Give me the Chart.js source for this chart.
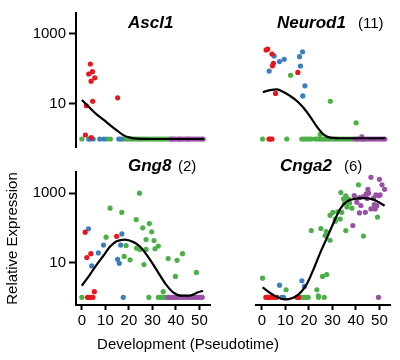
<!DOCTYPE html>
<html>
<head>
<meta charset="utf-8">
<script src="https://cdn.jsdelivr.net/npm/chart.js@4"></script>
<style>
  html, body { margin: 0; padding: 0; background: #fff; }
  #wrap { position: relative; width: 400px; height: 360px; overflow: hidden; }
  #wrap canvas { position: absolute; left: 0; top: 0; }
</style>
</head>
<body>
<div id="wrap">
  <canvas id="c1" width="400" height="360"></canvas>
  <canvas id="c2" width="400" height="360"></canvas>
  <canvas id="c3" width="400" height="360"></canvas>
  <canvas id="c4" width="400" height="360"></canvas>
</div>
<script>
// ---------- shared axis / label data ----------
const xTickValues = [0, 10, 20, 30, 40, 50];
const yTickValues = [10, 1000];
const ZERO_LEVEL = 1;            // cells with no expression sit on this level
const xAxisTitle = "Development (Pseudotime)";
const yAxisTitle = "Relative Expression";

// ---------- Ascl1 ----------
const ascl1Red = [[3.6,139],[2.9,72],[4.5,84],[5.5,56],[3.9,45],[4.6,12],[1.9,8.9],[15.2,15],[1.5,1.3],[4.0,1.1]];
const ascl1BlueZero = [2.9,3.4,4.8,7.6,9.4,15.7,16.7];
const ascl1GreenZero = [0,10.7,12.1,17.8,18.8,19.8,20.8,21.8,22.8,23.8,24.8,25.8,26.8,27.8,28.8,29.8,30.8,31.8,32.8,33.8,34.8,35.8,36.8,38.3,41.5,45];
const ascl1PurpleZero = [37.8,38.8,39.8,40.8,41.8,42.8,43.8,44.8,45.8,46.8,47.8,48.8,49.8,50.8,51.6];
const ascl1CurveX = [0,3.6,6.5,9.3,12.1,15,17.8,20.6,23.5,30,40,52];
const ascl1CurveY = [13,7.5,4.9,3.5,2.45,1.73,1.27,1.09,1.02,1.0,1.0,1.0];

// ---------- Neurod1 ----------
const neurod1Red = [[1.8,350],[2.5,370],[4.3,268],[4.9,145],[4.5,123],[15.3,80],[5.8,20]];
const neurod1RedZero = [3.0,3.6,4.3];
const neurod1Blue = [[5.2,236],[3.1,87],[7.5,163],[9.5,190],[17.3,310],[16.0,225],[16.4,122],[18.3,33],[17.4,17]];
const neurod1Green = [[12.2,66],[29.1,12],[40.1,2.9],[24.8,1.36]];
const neurod1GreenZero = [0.3,10.6,17,18,19,20,21,22.7,23.7,24.7,25.7,26.7,27.7,28.7,29.7,30.7,31.7,32.7,33.7,34.7,35.7,36.7,37.7,38.7,40.5,43];
const neurod1Purple = [[42.5,1.16]];
const neurod1PurpleZero = [39.5,40.5,41.5,42.5,43.5,44.5,45.5,46.5,47.5,48.5,49.5,50.5,51.5,52.3];
const neurod1CurveX = [0.4,3.5,6.4,9.2,12,14.9,17.7,20.6,23.4,26.2,29.1,35,45,52.5];
const neurod1CurveY = [22,25,26.3,22,17,12.2,7.8,4.3,2.25,1.36,1.1,1.05,1.05,1.05];

// ---------- Gng8 ----------
const gng8Red = [[1.4,75],[2.1,14],[3.8,18],[14.8,57],[5.3,1.45]];
const gng8RedZero = [2.4,3.2,4.0,4.7];
const gng8Blue = [[2.8,94],[4.2,8],[7,19],[9.2,32],[17,67],[16.5,32],[15.2,12.4],[15.9,9.5]];
const gng8BlueZero = [17.6];
const gng8Green = [[12,370],[17,280],[24.5,1000],[23.1,173],[25.9,100],[28.7,133],[29.7,77],[27.3,46],[30.7,43],[23.3,26],[24.7,24],[27.3,24],[31.1,25],[32.5,30],[18.8,31],[18,15],[20.5,12],[26.4,8.8],[10.3,54],[36.7,13],[40.5,11.6],[42.8,18],[39.8,4],[48.7,5.2],[34.6,1.45]];
const gng8GreenZero = [0,28.5,32.5,33.5,34.5,35.5,37,40.5];
const gng8PurpleZero = [36.6,37.6,38.6,39.6,41.2,42.2,43.2,44.2,45.2,46.2,47.2,48.2,49.2,50.2,51.2];
const gng8CurveX = [0,3.5,6.4,9.2,12,14.8,18.3,21.9,24.7,27.5,30.3,33.2,36,38.8,42.4,45.9,49.4,51.5];
const gng8CurveY = [2.15,4.6,8.9,16,29,41,46,39,29,17,8.9,4.3,2.24,1.39,1.11,1.11,1.39,1.55];

// ---------- Cnga2 ----------
const cnga2RedZero = [1.7,2.5,3.5,4.5,5.5,6.4,14.9,15.6];
const cnga2Blue = [[7.5,2.24],[17,3.0],[18.1,2.05]];
const cnga2BlueZero = [2.2,3.1,8.5,9.2];
const cnga2Green = [[0.3,3.55],[10.3,1.65],[23.4,1.65],[24,1.1],[25.8,4.0],[27.6,4.5],[21,84],[25.1,96],[27.4,78],[26.9,60],[29,44],[29,230],[30.2,280],[32.3,287],[31.2,180],[31.2,155],[33.3,180],[34,280],[33.6,1040],[35.7,840],[34.7,690],[36.9,675],[35.2,520],[37.3,520],[36.2,400],[35.7,84],[41.1,1740],[38.3,370],[43.2,58],[49.2,205]];
const cnga2GreenZero = [16.3,17,18,19,19.7,24.1,26.5];
const cnga2Purple = [[39.3,850],[41.5,750],[43.2,800],[40.4,550],[42.1,440],[41.5,270],[44,280],[38.7,117],[45.1,1290],[45.4,1000],[46.4,2860],[50,2500],[51.1,1740],[52.2,1290],[48.5,890],[50.3,890],[47.5,720],[46.4,350],[48.2,350],[47.8,465],[44.4,960],[49.6,840],[48.9,435],[44.8,700]];
const cnga2PurpleZero = [49.6];
const cnga2CurveX = [0.3,4.9,9.9,14.9,19.1,22,24.8,27.7,30.5,33.3,36.2,39,43.2,47.5,52.2];
const cnga2CurveY = [1.93,1.16,0.87,1.11,2.4,6.5,19,52,140,350,575,675,720,650,435];

// ---------- styling ----------
const FONT = "'Liberation Sans', Arial, Helvetica, sans-serif";
const COLORS = { red: '#e8171d', blue: '#3a7ebf', green: '#4caf48', purple: '#994fa4' };
const PT = 2.6;

function pairs(arr) { return arr.map(p => ({ x: p[0], y: p[1] })); }
function zeros(arr) { return arr.map(x => ({ x: x, y: ZERO_LEVEL })); }
function curve(xs, ys) { return xs.map((x, i) => ({ x: x, y: ys[i] })); }

function pointSet(color, pts) {
  return { data: pts, backgroundColor: color, borderWidth: 0, pointRadius: PT, pointHoverRadius: PT };
}

function titlePlugin(gene, note, x, y, noteX) {
  return {
    id: 'panelTitle',
    afterDraw(chart) {
      const ctx = chart.ctx;
      ctx.save();
      ctx.fillStyle = '#000';
      ctx.textAlign = 'left';
      ctx.textBaseline = 'alphabetic';
      ctx.font = 'italic bold 17px ' + FONT;
      ctx.fillText(gene, x, y);
      if (note) {
        ctx.font = '15px ' + FONT;
        ctx.fillText(note, noteX, y);
      }
      ctx.restore();
    }
  };
}

const axisTitlePlugin = {
  id: 'axisTitles',
  afterDraw(chart) {
    const ctx = chart.ctx;
    ctx.save();
    ctx.fillStyle = '#000';
    ctx.font = '15px ' + FONT;
    ctx.textAlign = 'center';
    ctx.textBaseline = 'middle';
    ctx.fillText(xAxisTitle, 188, 345);
    ctx.translate(12.5, 238.5);
    ctx.rotate(-Math.PI / 2);
    ctx.fillText(yAxisTitle, 0, 0);
    ctx.restore();
  }
};

function makePanel(canvasId, cfg) {
  const datasets = [
    { data: curve(cfg.cx, cfg.cy), showLine: true, borderColor: '#000', borderWidth: 2.2,
      pointRadius: 0, pointHoverRadius: 0, cubicInterpolationMode: 'monotone', fill: false }
  ];
  cfg.sets.forEach(s => datasets.push(pointSet(s[0], s[1])));
  const plugins = [titlePlugin(cfg.gene, cfg.note, cfg.tx, cfg.ty, cfg.nx)];
  if (cfg.extra) plugins.push(cfg.extra);
  return new Chart(document.getElementById(canvasId), {
    type: 'scatter',
    data: { datasets: datasets },
    plugins: plugins,
    options: {
      responsive: false,
      animation: false,
      devicePixelRatio: 1,
      events: [],
      layout: { padding: cfg.pad },
      plugins: { legend: { display: false }, tooltip: { enabled: false }, title: { display: false } },
      scales: {
        x: {
          type: 'linear', position: 'bottom', min: -2.5, max: 54.5, display: cfg.showX,
          afterBuildTicks: s => { s.ticks = xTickValues.map(v => ({ value: v })); },
          afterFit: s => { s.height = cfg.showX ? 30 : 0; },
          grid: { display: true, drawOnChartArea: false, drawTicks: true, tickLength: 5, tickWidth: 2, tickColor: '#000' },
          border: { display: true, color: '#000', width: 2 },
          ticks: { color: '#000', font: { family: FONT, size: 15 }, padding: 2, maxRotation: 0, autoSkip: false,
                   callback: v => String(v) }
        },
        y: {
          type: 'logarithmic', position: 'left', min: cfg.ymin, max: cfg.ymax, display: cfg.showY,
          afterBuildTicks: s => { s.ticks = yTickValues.map(v => ({ value: v })); },
          afterFit: s => { s.width = cfg.showY ? 76 : 0; },
          grid: { display: true, drawOnChartArea: false, drawTicks: true, tickLength: 7, tickWidth: 2, tickColor: '#000' },
          border: { display: true, color: '#000', width: 2 },
          ticks: { color: '#000', font: { family: FONT, size: 15 }, padding: 3, autoSkip: false,
                   callback: v => String(v) }
        }
      }
    }
  });
}

const TOP_MIN = Math.pow(10, -0.2286), TOP_MAX = Math.pow(10, 3.6);
const BOT_MIN = Math.pow(10, -0.191), BOT_MAX = Math.pow(10, 3.609);

makePanel('c1', {
  gene: 'Ascl1', note: '', tx: 128, ty: 27.5, nx: 0,
  pad: { left: 0, top: 13, right: 190, bottom: 213 }, showX: false, showY: true, ymin: TOP_MIN, ymax: TOP_MAX,
  cx: ascl1CurveX, cy: ascl1CurveY,
  sets: [[COLORS.red, pairs(ascl1Red)], [COLORS.blue, zeros(ascl1BlueZero)],
         [COLORS.purple, zeros(ascl1PurpleZero)], [COLORS.green, zeros(ascl1GreenZero)]]
});

makePanel('c2', {
  gene: 'Neurod1', note: '(11)', tx: 277, ty: 28, nx: 358,
  pad: { left: 256, top: 13, right: 10, bottom: 213 }, showX: false, showY: false, ymin: TOP_MIN, ymax: TOP_MAX,
  cx: neurod1CurveX, cy: neurod1CurveY,
  sets: [[COLORS.red, pairs(neurod1Red).concat(zeros(neurod1RedZero))],
         [COLORS.blue, pairs(neurod1Blue)],
         [COLORS.purple, pairs(neurod1Purple).concat(zeros(neurod1PurpleZero))],
         [COLORS.green, pairs(neurod1Green).concat(zeros(neurod1GreenZero))]]
});

makePanel('c3', {
  gene: 'Gng8', note: '(2)', tx: 128, ty: 171, nx: 178,
  pad: { left: 0, top: 172, right: 190, bottom: 25 }, showX: true, showY: true, ymin: BOT_MIN, ymax: BOT_MAX,
  cx: gng8CurveX, cy: gng8CurveY, extra: axisTitlePlugin,
  sets: [[COLORS.red, pairs(gng8Red).concat(zeros(gng8RedZero))],
         [COLORS.blue, pairs(gng8Blue).concat(zeros(gng8BlueZero))],
         [COLORS.purple, zeros(gng8PurpleZero)],
         [COLORS.green, pairs(gng8Green).concat(zeros(gng8GreenZero))]]
});

makePanel('c4', {
  gene: 'Cnga2', note: '(6)', tx: 280, ty: 171, nx: 344,
  pad: { left: 256, top: 172, right: 10, bottom: 25 }, showX: true, showY: false, ymin: BOT_MIN, ymax: BOT_MAX,
  cx: cnga2CurveX, cy: cnga2CurveY,
  sets: [[COLORS.red, zeros(cnga2RedZero)],
         [COLORS.blue, pairs(cnga2Blue).concat(zeros(cnga2BlueZero))],
         [COLORS.purple, pairs(cnga2Purple).concat(zeros(cnga2PurpleZero))],
         [COLORS.green, pairs(cnga2Green).concat(zeros(cnga2GreenZero))]]
});
</script>
</body>
</html>
